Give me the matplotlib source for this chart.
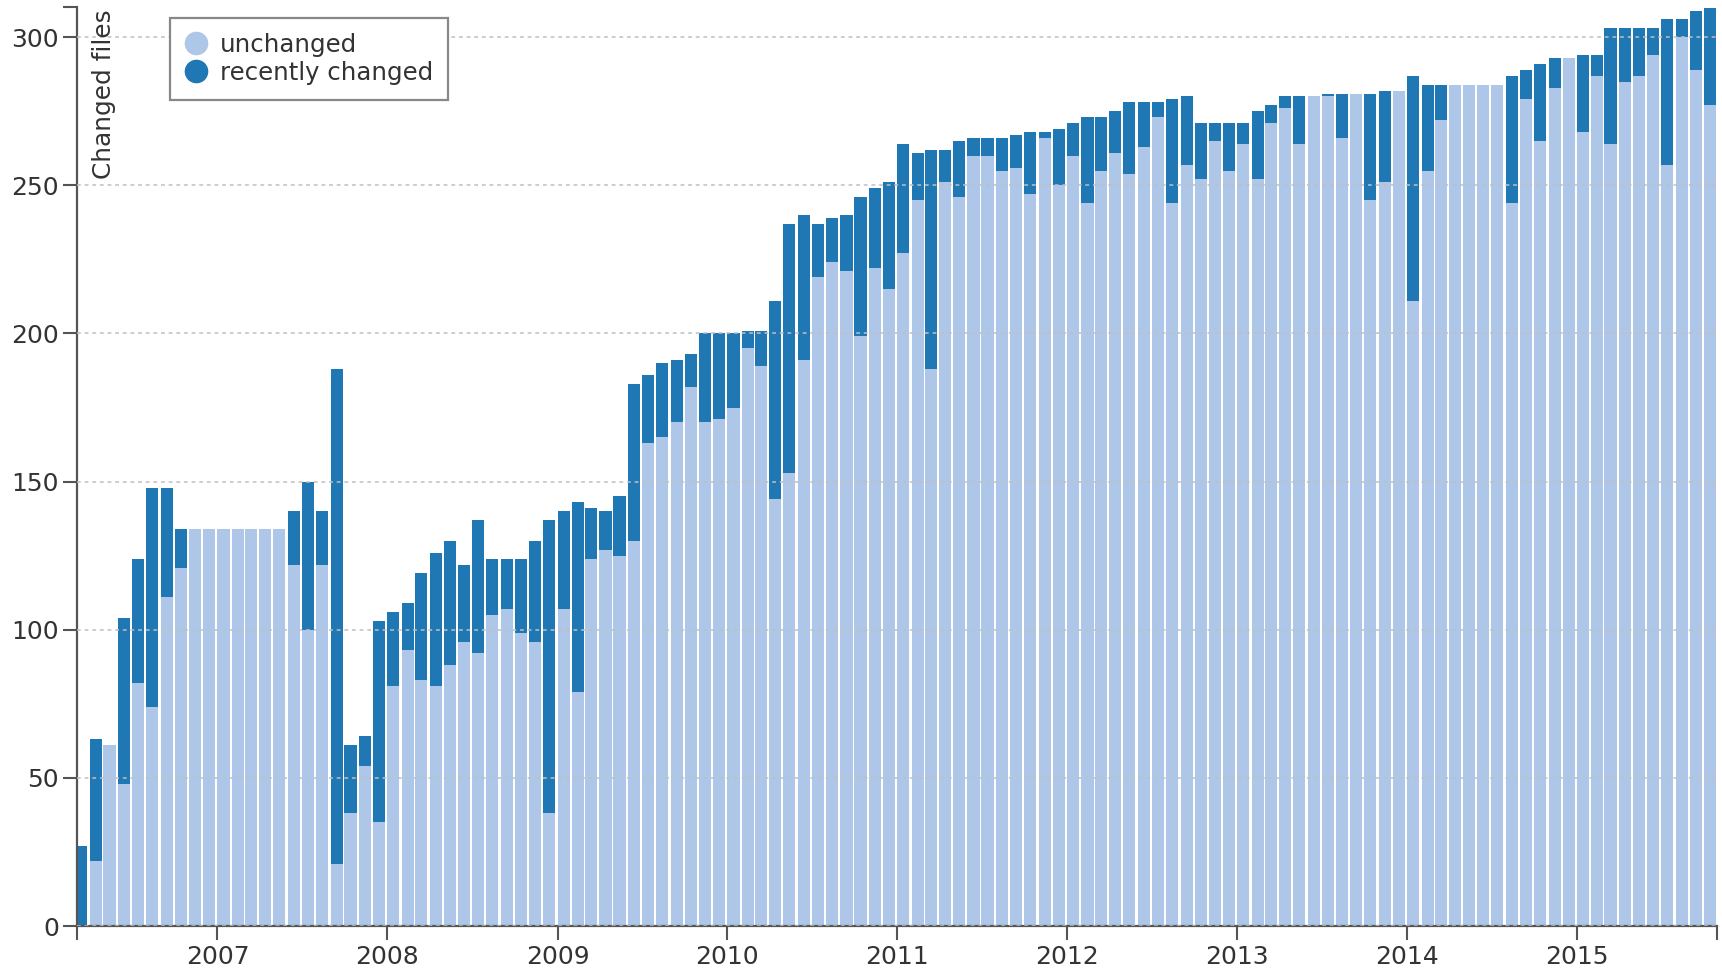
import matplotlib
matplotlib.use('Agg')
import matplotlib.pyplot as plt
import matplotlib.dates as mdates
from matplotlib.lines import Line2D
import pandas as pd

# monthly snapshots, March 2006 .. October 2015
first_month = '2006-03-01'
n_months = 116

# total number of files per month (top of each bar)
total_files = [
    27, 63, 61, 104, 124, 148, 148, 134, 134, 134,
    134, 134, 134, 134, 134, 140, 150, 140, 188, 61,
    64, 103, 106, 109, 119, 126, 130, 122, 137, 124,
    124, 124, 130, 137, 140, 143, 141, 140, 145, 183,
    186, 190, 191, 193, 200, 200, 200, 201, 201, 211,
    237, 240, 237, 239, 240, 246, 249, 251, 264, 261,
    262, 262, 265, 266, 266, 266, 267, 268, 268, 269,
    271, 273, 273, 275, 278, 278, 278, 279, 280, 271,
    271, 271, 271, 275, 277, 280, 280, 280, 281, 281,
    281, 281, 282, 282, 287, 284, 284, 284, 284, 284,
    284, 287, 289, 291, 293, 293, 294, 294, 303, 303,
    303, 303, 306, 306, 309, 310,
]

# files not touched recently (light part of each bar)
unchanged_files = [
    0, 22, 61, 48, 82, 74, 111, 121, 134, 134,
    134, 134, 134, 134, 134, 122, 100, 122, 21, 38,
    54, 35, 81, 93, 83, 81, 88, 96, 92, 105,
    107, 99, 96, 38, 107, 79, 124, 127, 125, 130,
    163, 165, 170, 182, 170, 171, 175, 195, 189, 144,
    153, 191, 219, 224, 221, 199, 222, 215, 227, 245,
    188, 251, 246, 260, 260, 255, 256, 247, 266, 250,
    260, 244, 255, 261, 254, 263, 273, 244, 257, 252,
    265, 255, 264, 252, 271, 276, 264, 280, 280, 266,
    281, 245, 251, 282, 211, 255, 272, 284, 284, 284,
    284, 244, 279, 265, 283, 293, 268, 287, 264, 285,
    287, 294, 257, 300, 289, 277,
]

year_ticks = list(range(2007, 2016))

light = '#aec7e8'
dark = '#1f77b4'
axis_col = '#555555'
text_col = '#333333'

months = pd.date_range(first_month, periods=n_months, freq='MS')
recent_files = [t - u for t, u in zip(total_files, unchanged_files)]

fig = plt.figure(figsize=(17.22, 9.72), dpi=100)
ax = fig.add_axes([0.0447, 0.0473, 0.9524, 0.9455])

x = mdates.date2num(months)
ax.bar(x, unchanged_files, width=26, align='edge', color=light, linewidth=0)
ax.bar(x, recent_files, width=26, align='edge', bottom=unchanged_files,
       color=dark, linewidth=0)

x_left = mdates.date2num(pd.Timestamp('2006-03-05'))
x_right = mdates.date2num(pd.Timestamp('2015-10-29'))
ax.set_xlim(x_left, x_right)
ax.set_ylim(0, 310.2)

# y axis
ax.set_yticks(range(0, 301, 50))
ax.set_yticks([310.2], minor=True)
ax.yaxis.grid(True, which='major', linestyle=(0, (2.5, 2.5)), color='#c0c0c0', linewidth=1.1)
ax.set_axisbelow(False)

# x axis: ticks at the start of each year
ax.set_xticks([mdates.date2num(pd.Timestamp(f'{y}-01-01')) for y in year_ticks])
ax.set_xticklabels([str(y) for y in year_ticks])
ax.set_xticks([x_left, x_right], minor=True)

for s in ['top', 'right']:
    ax.spines[s].set_visible(False)
for s in ['left', 'bottom']:
    ax.spines[s].set_color(axis_col)
    ax.spines[s].set_linewidth(1.6)

ax.tick_params(which='both', length=10, width=1.5, color=axis_col)
ax.tick_params(axis='x', which='major', labelsize=18, labelcolor=text_col, pad=4)
ax.tick_params(axis='y', which='major', labelsize=18, labelcolor=text_col, pad=3)

ax.text(0.009, 0.997, 'Changed files', rotation=90, transform=ax.transAxes,
        ha='left', va='top', fontsize=17.8, color=text_col)

handles = [
    Line2D([], [], marker='o', linestyle='none', markersize=16,
           markerfacecolor=light, markeredgecolor=light),
    Line2D([], [], marker='o', linestyle='none', markersize=16,
           markerfacecolor=dark, markeredgecolor=dark),
]
leg = ax.legend(handles, ['unchanged', 'recently changed'], loc='upper left',
                bbox_to_anchor=(0.0567, 0.988), borderaxespad=0, fontsize=17.6,
                frameon=True, fancybox=False, handlelength=0.9, handletextpad=0.55,
                labelspacing=0.17, borderpad=0.6, labelcolor=text_col)
leg.get_frame().set_edgecolor('#888888')
leg.get_frame().set_linewidth(1.6)
leg.get_frame().set_facecolor('white')
leg.get_frame().set_alpha(1)

fig.savefig('out.png', dpi=100)
